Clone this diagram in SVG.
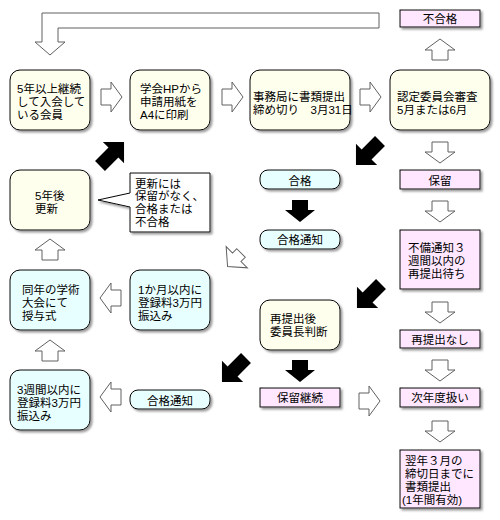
<svg xmlns="http://www.w3.org/2000/svg" xmlns:xlink="http://www.w3.org/1999/xlink" width="500" height="520" viewBox="0 0 500 520">
<style>
text{font-family:"Liberation Sans","Noto Sans CJK JP",sans-serif;font-size:11.5px;fill:#000}
.c{text-anchor:middle}
.y{fill:#ffffee;stroke:#000;stroke-width:1}
.b{fill:#e8ffff;stroke:#000;stroke-width:1}
.p{fill:#ffe8ff;stroke:#000;stroke-width:1}
.w{fill:#fff;stroke:#000;stroke-width:1}
.h{fill:#fff;stroke:#606060;stroke-width:1}
.k{fill:#000}
</style>
<defs>
<filter id="sh" x="-20%" y="-20%" width="150%" height="150%">
<feDropShadow dx="2" dy="2" stdDeviation="1" flood-color="#808080" flood-opacity="0.8"/>
</filter>
<path id="hd" d="M-8,0 H8 V10 H15 L0,21 L-15,10 H-8 Z"/>
<path id="kd" d="M-8,0 H8 V10 H15 L0,22 L-15,10 H-8 Z"/>
<path id="kg" d="M-7,0 H7 V19 H15 L0,34 L-15,19 H-7 Z"/>
<path id="hs" d="M-6,0 H6 V6 H15 L0,19 L-15,6 H-6 Z"/>
</defs>
<rect width="500" height="520" fill="#fff"/>
<g id="connectors">
<path class="h" d="M379,13 H42 V42 H35 L50,55 L65,42 H58 V28 H379 Z"/>
<use xlink:href="#hd" class="h" transform="translate(101,97) rotate(-90)"/>
<use xlink:href="#hd" class="h" transform="translate(222,97) rotate(-90)"/>
<use xlink:href="#hd" class="h" transform="translate(360,97) rotate(-90)"/>
<use xlink:href="#hd" class="h" transform="translate(440,60) rotate(180)"/>
<use xlink:href="#hd" class="h" transform="translate(440,142)"/>
<use xlink:href="#hd" class="h" transform="translate(440,201)"/>
<use xlink:href="#hd" class="h" transform="translate(440,302)"/>
<use xlink:href="#hd" class="h" transform="translate(440,360)"/>
<use xlink:href="#hd" class="h" transform="translate(440,421)"/>
<use xlink:href="#hd" class="h" transform="translate(359,401) rotate(-90)"/>
<use xlink:href="#hd" class="h" transform="translate(121,298) rotate(90)"/>
<use xlink:href="#hd" class="h" transform="translate(121,397) rotate(90)"/>
<use xlink:href="#hd" class="h" transform="translate(50,260) rotate(180)"/>
<use xlink:href="#hd" class="h" transform="translate(50,361) rotate(180)"/>
<use xlink:href="#hs" class="h" transform="translate(241,253) rotate(45)"/>
<use xlink:href="#kd" class="k" transform="translate(300,200)"/>
<use xlink:href="#kd" class="k" transform="translate(300,360)"/>
<use xlink:href="#kg" class="k" transform="translate(100,166) rotate(-135)"/>
<use xlink:href="#kg" class="k" transform="translate(380,141) rotate(45)"/>
<use xlink:href="#kg" class="k" transform="translate(381,284) rotate(45)"/>
<use xlink:href="#kg" class="k" transform="translate(246,358) rotate(45)"/>
</g>
<g id="n-member">
<rect class="y" filter="url(#sh)" x="10" y="70" width="80" height="60" rx="10"/>
<text x="17" y="92.5">5年以上継続</text>
<text x="17" y="105.5">して入会して</text>
<text x="17" y="118.5">いる会員</text>
</g>
<g id="n-print">
<rect class="y" filter="url(#sh)" x="130" y="70" width="80" height="60" rx="10"/>
<text x="140" y="92.5">学会HPから</text>
<text x="140" y="105.5">申請用紙を</text>
<text x="140" y="118.5">A4に印刷</text>
</g>
<g id="n-submit">
<rect class="y" filter="url(#sh)" x="250" y="70" width="100" height="60" rx="10"/>
<text x="253" y="101">事務局に書類提出</text>
<text x="253" y="114">締め切り　3月31日</text>
</g>
<g id="n-review">
<rect class="y" filter="url(#sh)" x="390" y="70" width="100" height="60" rx="10"/>
<text x="397" y="101">認定委員会審査</text>
<text x="397" y="114">5月または6月</text>
</g>
<g id="n-fail">
<rect class="p" filter="url(#sh)" x="400" y="10" width="80" height="17"/>
<text class="c" x="440" y="23">不合格</text>
</g>
<g id="n-pass">
<rect class="b" filter="url(#sh)" x="260" y="170" width="80" height="19" rx="8"/>
<text class="c" x="300" y="184.5">合格</text>
</g>
<g id="n-hold">
<rect class="p" filter="url(#sh)" x="400" y="170" width="80" height="19"/>
<text class="c" x="440" y="184.5">保留</text>
</g>
<g id="n-renew">
<rect class="y" filter="url(#sh)" x="10" y="170" width="80" height="60" rx="10"/>
<text x="35" y="199.5">5年後</text>
<text x="35" y="212.5">更新</text>
</g>
<g id="n-callout">
<path class="w" filter="url(#sh)" d="M130,173 H210 V232 H130 V207 L98,200 L130,193 Z"/>
<text x="135" y="187.5">更新には</text>
<text x="135" y="200.4">保留がなく、</text>
<text x="135" y="213.3">合格または</text>
<text x="135" y="226.2">不合格</text>
</g>
<g id="n-pass-notice">
<rect class="b" filter="url(#sh)" x="260" y="230" width="80" height="19" rx="8"/>
<text class="c" x="300" y="243.5">合格通知</text>
</g>
<g id="n-deficiency">
<rect class="p" filter="url(#sh)" x="400" y="230" width="80" height="59"/>
<text x="408" y="252">不備通知３</text>
<text x="408" y="265">週間以内の</text>
<text x="408" y="278">再提出待ち</text>
</g>
<g id="n-ceremony">
<rect class="b" filter="url(#sh)" x="10" y="270" width="80" height="60" rx="10"/>
<text x="22" y="294">同年の学術</text>
<text x="22" y="307">大会にて</text>
<text x="22" y="320">授与式</text>
</g>
<g id="n-pay1">
<rect class="b" filter="url(#sh)" x="130" y="270" width="80" height="60" rx="10"/>
<text x="138" y="294">1か月以内に</text>
<text x="138" y="307">登録料3万円</text>
<text x="138" y="320">振込み</text>
</g>
<g id="n-chair">
<rect class="y" filter="url(#sh)" x="260" y="300" width="80" height="50" rx="10"/>
<text x="270" y="323">再提出後</text>
<text x="270" y="336">委員長判断</text>
</g>
<g id="n-noresubmit">
<rect class="p" filter="url(#sh)" x="400" y="330" width="80" height="18"/>
<text class="c" x="440" y="343.5">再提出なし</text>
</g>
<g id="n-pay3">
<rect class="b" filter="url(#sh)" x="10" y="370" width="80" height="60" rx="10"/>
<text x="17" y="394">3週間以内に</text>
<text x="17" y="407">登録料3万円</text>
<text x="17" y="420">振込み</text>
</g>
<g id="n-pass-notice2">
<rect class="b" filter="url(#sh)" x="130" y="390" width="80" height="19" rx="8"/>
<text class="c" x="170" y="404.5">合格通知</text>
</g>
<g id="n-holdcont">
<rect class="p" filter="url(#sh)" x="260" y="388" width="80" height="19"/>
<text class="c" x="300" y="402">保留継続</text>
</g>
<g id="n-nextyear">
<rect class="p" filter="url(#sh)" x="400" y="388" width="80" height="19"/>
<text class="c" x="440" y="402">次年度扱い</text>
</g>
<g id="n-following">
<rect class="p" filter="url(#sh)" x="400" y="450" width="80" height="58"/>
<text x="405" y="465">翌年３月の</text>
<text x="405" y="478">締切日までに</text>
<text x="405" y="491">書類提出</text>
<text x="402" y="504">(1年間有効)</text>
</g>
</svg>
